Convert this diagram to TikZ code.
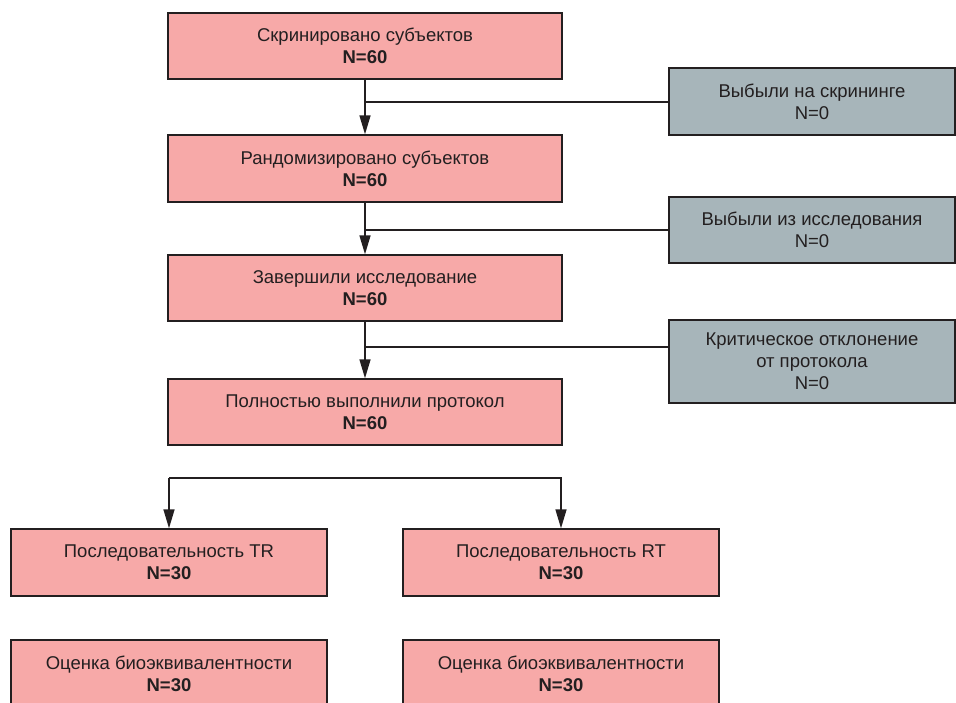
\documentclass[tikz,border=0pt]{standalone}
\usepackage{fontspec}
\setmainfont{Liberation Sans}
\usetikzlibrary{arrows.meta}
\definecolor{pinkfill}{HTML}{F7A9A8}
\definecolor{grayfill}{HTML}{A7B5BA}
\definecolor{inkc}{HTML}{231F20}
\tikzset{
  boxbase/.style={draw=inkc, line width=1.4pt, rectangle, align=center, text=inkc,
    font=\fontsize{18.5}{22}\selectfont, inner sep=0pt},
  pinkbox/.style={boxbase, fill=pinkfill, minimum width=394pt, minimum height=66pt},
  seqbox/.style={boxbase, fill=pinkfill, minimum width=316pt, minimum height=67pt},
  graybox/.style={boxbase, fill=grayfill, minimum width=286pt, minimum height=66pt},
  conn/.style={draw=inkc, line width=1.5pt},
  arr/.style={conn, -{Triangle[length=19pt,width=11pt]}},
}
\begin{document}
\begin{tikzpicture}[x=1pt,y=-1pt]
\useasboundingbox (0,0) rectangle (956,702);
\clip (0,0) rectangle (956,702);
\node[pinkbox] (b1) at (365,46) {Скринировано субъектов\\\textbf{N=60}};
\node[pinkbox, minimum height=67pt] (b2) at (365,168.5) {Рандомизировано субъектов\\\textbf{N=60}};
\node[pinkbox] (b3) at (365,288) {Завершили исследование\\\textbf{N=60}};
\node[pinkbox] (b4) at (365,412) {Полностью выполнили протокол\\\textbf{N=60}};
\node[graybox, minimum height=67pt] (g1) at (812,101.5) {Выбыли на скрининге\\N=0};
\node[graybox] (g2) at (812,230) {Выбыли из исследования\\N=0};
\node[graybox, minimum height=83pt] (g3) at (812,361.5) {Критическое отклонение\\от протокола\\N=0};
\node[seqbox] (t1) at (169,562.5) {Последовательность TR\\\textbf{N=30}};
\node[seqbox] (t2) at (561,562.5) {Последовательность RT\\\textbf{N=30}};
\node[seqbox] (e1) at (169,673.5) {Оценка биоэквивалентности\\\textbf{N=30}};
\node[seqbox] (e2) at (561,673.5) {Оценка биоэквивалентности\\\textbf{N=30}};
% main flow
\draw[arr] (b1.south) -- (b2.north);
\draw[arr] (b2.south) -- (b3.north);
\draw[arr] (b3.south) -- (b4.north);
% exclusions
\coordinate (g1w) at ([yshift=-0.5pt]g1.west);
\draw[conn] (g1w) -- (g1w -| b1.south);
\draw[conn] (g2.west) -- (g2.west -| b2.south);
\coordinate (g3w) at ([yshift=14.5pt]g3.west);
\draw[conn] (g3w) -- (g3w -| b3.south);
% split
\coordinate (sp) at (365,478);
\draw[arr] (t1.north |- sp) -- (t1.north);
\draw[arr] (t1.north |- sp) -- (t2.north |- sp) -- (t2.north);
\end{tikzpicture}
\end{document}
